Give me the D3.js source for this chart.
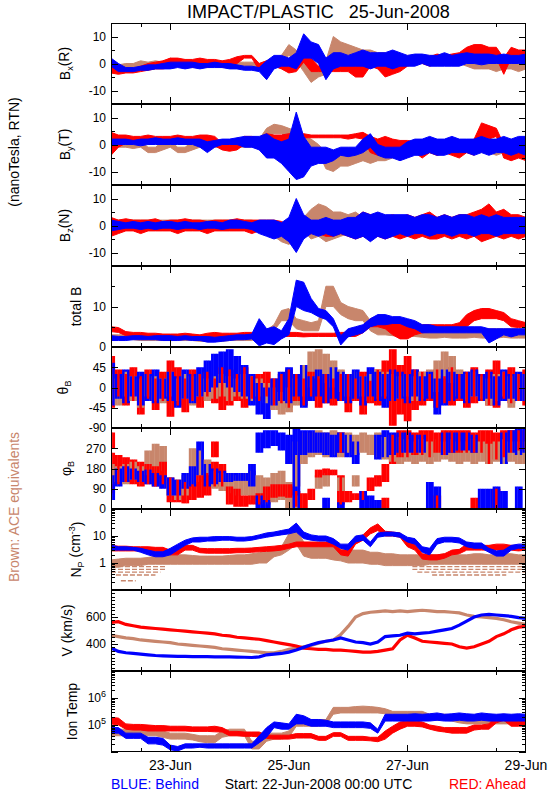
<!DOCTYPE html>
<html><head><meta charset="utf-8">
<script src="https://cdn.jsdelivr.net/npm/d3@7"></script>
<style>body{margin:0;background:#fff} text{font-family:"Liberation Sans",Arial,Helvetica,sans-serif}</style>
</head><body><svg id="c" width="550" height="800"></svg>
<script>
// ---- DATA: 3-hour samples from 22-Jun-2008 00:00 UTC (57 points), lo/hi envelopes ----
const startDate = "2008-06-22T00:00:00Z";
const stepHours = 3;
const dayTickLabels = ["23-Jun","25-Jun","27-Jun","29-Jun"];

const bxBlueLo = [-1,-3,-3,-3,-2.5,-2.5,-2,-2, -2,-1.5,-2,-1.5,-2,-1.5,-1.5,-1.5, -2,-2,-2.5,-2.5,-3,-6,-2,-1, -1,-2,2,2,0,-6,-2,-1, -1,-1,-1,-2,-1,-1,-2,-1, -1,-1,0,-1,-1,-1,-1,-1, 0,0,-0.5,0,0,0,0,0, 0];
const bxBlueHi = [2,0,-1.5,-1.5,-1,-0.5,-0.5,0, 0.5,0.5,0.5,0.5,0,0,0.5,0, 0,-0.5,-1,-1,-1.5,1,3,3, 2,4,11,8,7,2,4,4, 3,4,5,4,4,4,5,4, 3,3.5,3.5,3,3,4,3,3.5, 4,3.5,3.5,3.5,3,3.5,3,3, 3.5];
const bxRedLo = [-3.5,-4,-3.5,-3.5,-3,-2.5,-2,-2, -1.5,-1,-1,-1.5,-1,-1.5,-1,-1.5, -1.5,0,2,2,-2.5,-2,-1,-2, -3.5,-3,0.5,-3,-3,-3,-3,-3, -3,-5,-5,-1,-2,-5,-4,-3, -1,0,0,-1,0,0,0,0.5, 2,3,2,3,2,-4,2,2, 2];
const bxRedHi = [-1,-1.5,-2,-2,-1,0,0.5,1, 2,2,1.5,1.5,2,1.5,1.5,1, 1.5,2.5,3,3,0,1,1.5,0.5, -1,0.5,2,2,-1,1,0,-1, 0,0,1,2,1,-1,0,2, 2.5,3,3,2.5,3.5,3,3.5,4, 6,7,7,6,6,2,6,5, 5];
const bxBrownLo = [-2,-2,-2,-1.5,-1,-1,-1,-1, 0,-1,-1,-1,-1,-1,-1,-1, -1,-1,-1,-1,-2,-1,-1,0, 3,1,-3,-7,-5,-4,4,3, 2,2,1,1,0,0,0,0, 0,0,0,0,0,0,0,0, -1,-2,-2,-2,-3,-2,-2,-3, -2];
const bxBrownHi = [0,-0.5,0,0,1,0.5,1,0.5, 2,1,1.5,0.5,0.5,1,1,0.5, 0.5,0.5,0.5,0.5,0,1,2,3, 7,5,2,-2,-1,1,10,8, 7,6,5,5,4,4,3,3, 3,3,3,3,3,3.5,3,3, 2,1,1,1,0,1,0,0, 0];

const byRedLo = [-4,-1,0.5,0.5,0,0.5,0.5,0, 0.5,0.5,0,0.5,0.5,0,-0.5,-2, -2.5,-2,0,0,0,0.5,0.5,0, 0.5,0.5,2.5,2.5,2.5,2.5,2.5,2.5, 2,2.5,2,-3,-4,-3,-4,-3, -4,-3,-5,-3,-4,-3,-4,-5, -3,-4,3,2,3,-5,-6,-5, -6];
const byRedHi = [4.5,3.5,3.5,3,3,3.5,3,3, 3,3.5,3,3,3.5,3.5,3,0.5, 0,0.5,3,3,2.5,4,3.5,3.5, 4,4,4,3.5,3.5,3.5,3.5,3.5, 3.5,4,4.5,3,2,3,2,1.5, 1.5,1,0.5,1,0,1,0.5,0, 1,2,8,7,6,0,0,-1, -1];
const byBlueLo = [-0.5,0,0,0,-0.5,0,0,0, 0,0,0,0,-1,-3,-1,0, 0,0,-1,-1,-2,-5,-5,-7, -10,-13,-12,-8,-7,-7,-6,-4, -4.5,-4,-3,-1,-4,-5,-5,-6, -5,-4,-4,-3,-4,-4,-3,-3, -3,-4,-3,-4,-3,-3,-4,-3, -4];
const byBlueHi = [2,2,2,1.5,2,2,2.5,2, 2,2.5,2,2,2,1,1.5,2, 2,2.5,3,3,3,4,2,1, 2,12,3,-1,-1,-1,-2,-1, -1,-1,2,4,0,-1,-1,-1, 1,2,2,3,2,2,3,2, 2,2,3,2,2,3,2,3, 3];
const byBrownLo = [-1,-1,-1,-1.5,-1,-3,-3,-2, -1,-3,-3,-2,-1,-1,-1,-1, -1,-1,-1,-1,-1,3,4,4, 2,1,-2,-2,-3,-9,-10,-8, -8,-7,-6,-7,-6,-6,-5,-4, -4,-3,-3,-3,-4,-3,-3,-3, -3,-3,-3,-3,-4,-3,-3,-3, -3];
const byBrownHi = [2,2,2,1,1,-1,-1,1, 1,-1,-1,1,2,2,1.5,1.5, 1.5,1,1,1.5,2,6,7.5,7, 6,5,3,2,0,-3,-3,-2, -2,-2,-1,-2,-1,-1,-1,0, 0,1,1,1,0,1,1,1, 1,1,1,0,0,1,1,0, 0];

const bzRedLo = [-4,-3,-2,-2,-3,-2,-2,-2, -2,-3,-2,-2,-2,-3,-2,-2, -2,-2,-2,-3,-2,-2,-3,-3, -4,-5,-4,-3,-3,-4,-4,-3, -4,-5,-4,-5,-4,-5,-4,-5, -4,-5,-4,-5,-5,-4,-5,-4, -5,-4,-6,-5,-4,-5,-4,-5, -4];
const bzRedHi = [3,2,2.5,2,2,2,2.5,1.5, 2,2,2.5,2,2,1.5,2,2, 2,2.5,2,2,2,2,2,1.5, 0,0,1,1,1,0.5,1,1, 2,3,5,4,4,3,4,3, 4,3,4,5,3,4,3,4, 4,5,6,8,5,6,4,4, 3];
const bzBlueLo = [-2,-1.5,-1,-1,-1.5,-1,-1.5,-1, -1,-1.5,-1,-1,-1.5,-1,-1,-1.5, -1,-1,-1,-1.5,-3,-4,-5,-4, -6,-10,-5,-3,-4,-3,-4,-3, -4,-5,-4,-6,-4,-5,-4,-3, -4,-3,-3,-4,-3,-3,-4,-3, -3,-4,-3,-3,-4,-3,-3,-3, -3];
const bzBlueHi = [2,1.5,1,1.5,1,1.5,1,1.5, 1.5,1,1.5,1,1,1.5,1.5,1, 2,2,1.5,1,2,2,2,1, 3,10,4,2,2,3,2,2, 3,3,5,4,5,4,4,4, 4,3,4,4,3,4,3,4, 4,3,4,3,4,3,3,3, 3];
const bzBrownLo = [-1,-1,-1,-1,-1,-1,-1,-1, -1,-1,-1,-1,-1,-1,-1,-1, -1,-1,-1,-1,-2,-3,-4,-6, -7,-5,-2,-5,-4,-6,-5,-4, -3,-4,-3,-3,-3,-3,-3,-2, -2,-3,-2,-3,-3,-2,-3,-3, -3,-2,-3,-3,-2,-3,-3,-3, -3];
const bzBrownHi = [2,2,2,2,2,2,2,2, 2,2,2,2,2,2,2,2, 2,2,2,2,1,0,-1,-2, -1,0,3,6,8,7,5,5, 4,5,3,4,3,3,3,3, 3,2,3,2,3,3,2,3, 2,3,2,2,3,2,2,2, 2];

const btRedLo = [3.8,3.6,2.8,2.6,2.6,2.6,2.4,2.4, 2.4,2.4,2.2,2.2,2.2,2.4,2.4,2.4, 2.6,2.6,2.6,2.6,2.6,2.6,2.6,2.6, 2.6,2.6,2.5,2.6,2.6,2.6,2.6,2.6, 2.6,2.6,3.5,5,5,4.5,3,2, 2,3,3.5,3.8,4,4,4,4, 5,6.5,7,7,7,6.5,5,4.8, 5];
const btRedHi = [5,4.8,3.8,3.6,3.6,3.4,3.4,3.2, 3.2,3.2,3.4,3.2,3,3.4,3.6,3.4, 3.4,3.4,3.6,3.6,3.6,3.4,3.6,3.6, 3.6,3.6,3.4,3.4,3.4,3.4,3.4,3.6, 3.6,3.6,5,7,7.5,7,6.5,6, 6,6,5.5,5.5,5.5,5.5,5.5,6, 8,9,9.5,9.5,9,8.5,7,6.5, 6];
const btBlueLo = [1.6,1.6,1.6,1.8,1.8,1.8,1.8,1.6, 1.6,1.6,1.8,1.6,1.6,1.2,1.2,1.4, 1.6,1.8,1.8,2,0.3,1,0.6,2, 3,10,9,8.5,7.5,6.8,5,0.5, 2.5,3,3.5,5,5.5,5.5,5.8,5.8, 5,4.5,3.5,3.5,3.5,3.5,3.5,3.5, 3.5,3.5,3.5,1,2,3,2.5,3, 3];
const btBlueHi = [2.8,2.6,2.6,2.8,2.8,2.6,2.8,2.8, 2.8,2.6,2.8,2.6,2.6,2.6,2.4,2.6, 2.8,3,3,3.2,7,4.5,5,4, 7,16.5,16,12,9.5,9,7,2.8, 4.5,5,5.5,7,8,8,7.5,7.5, 7,6.5,5.5,5.5,5,5,5,5, 5,5,5,4.5,4.5,4.5,4.5,4.5, 4.5];
const btBrownLo = [2,2,2,1.8,1.6,1.6,1.6,1.6, 1.6,1.6,1.6,1.6,1.4,1.4,1.4,1.4, 1.6,1.6,1.6,1.6,2.4,2.8,4,6.5, 6.5,4.5,4,4,4,10,10,8, 7,6.5,6.5,4,3,3,2.8,2.6, 2.6,2.6,2.4,2.2,2.2,2.4,2.2,2.2, 2.2,2.4,2.2,2.2,2.2,2.4,2.2,2.2, 2.2];
const btBrownHi = [3,3,3,2.8,2.6,2.6,2.8,2.6, 2.8,2.6,2.6,2.6,2.6,2.6,2.6,2.6, 2.8,2.8,2.8,2.8,3.6,4.2,5.5,9, 9.5,7,6.5,6,6.5,15,15,11, 10,9.5,9,6.5,6,5.5,5,5, 4.5,4.5,4.5,4.5,5,5,5,4.5, 4.5,4.5,4.5,4.5,4.5,4.5,4.5,4.5, 4.5];

const thRedLo = [-45,-20,-40,-30,-60,-25,-50,-30, -65,-40,-55,-30,-45,-20,-35,-50, -40,-30,-45,-25,-30,-20,-40,-35, -45,-30,-40,-20,-45,-35,-40,-30, -55,-30,-60,-35,-40,-25,-85,-60, -75,-50,-40,-30,-45,-35,-40,-30, -45,-35,-30,-40,-45,-25,-35,-30, -40];
const thRedHi = [70,40,30,45,25,40,20,35, 60,45,20,40,30,35,20,45, 40,30,45,25,30,35,20,30, 40,30,20,35,25,30,20,30, 30,20,35,15,40,60,85,50, 70,40,35,30,40,25,45,30, 35,45,30,40,60,35,45,30, 40];
const thBlueLo = [-40,-25,-35,-20,-40,-30,-35,-25, -30,-45,-25,-35,-20,-10,0,10, 0,-10,-20,-40,-60,-70,-40,-30, -35,-20,-45,-30,-20,-35,-25,-30, -35,-25,-40,-20,-30,-45,-30,-25, -35,-20,-30,-25,-60,-40,-30,-25, -35,-20,-30,-25,-40,-30,-25,-30, -30];
const thBlueHi = [55,30,40,25,35,30,40,20, 35,25,40,30,45,60,75,80, 85,70,50,30,10,0,20,35, 45,30,50,25,40,30,45,35, 30,40,25,45,35,30,40,35, 30,40,25,35,20,40,35,30, 35,40,30,35,25,40,30,35, 30];
const thBrownLo = [-30,-40,-20,-30,-45,-20,-30,-35, -20,-30,-25,-40,-20,-30,-25,-20, -30,-20,-25,-30,-20,-35,-50,-60, -55,-40,-20,0,20,10,0,-10, -20,-30,-20,-30,-25,-20,-30,-25, -20,-30,-25,-20,-10,20,10,-20, -30,-20,-25,-40,-30,-20,-45,-30, -30];
const thBrownHi = [30,20,35,25,20,30,25,20, 35,20,30,25,30,20,25,30, 25,20,30,25,20,10,0,-10, 0,20,50,80,85,75,60,40, 30,35,25,30,40,35,30,25, 30,25,35,40,60,80,70,40, 30,35,25,20,30,35,25,30, 30];

// phi: main envelope plus a secondary envelope (null = none)
const phBlueLo = [40,100,120,130,120,110,100,90, 60,60,90,100,150,100,110,120, 120,125,125,100,250,270,280,260, 200,240,240,250,250,240,230,250, 230,200,0,0,220,230,240,250, 250,250,250,0,0,240,250,260, 260,250,0,0,0,200,250,240, 250];
const phBlueHi = [150,180,190,180,170,175,160,150, 140,130,160,190,300,200,180,170, 160,160,160,200,340,350,350,340, 330,360,350,350,340,340,330,340, 330,300,80,60,330,350,340,340, 340,330,330,120,100,340,340,340, 340,330,90,90,100,340,350,360, 360];
const phBlue2Lo = [null,null,null,null,null,null,null,null, null,null,null,null,null,null,null,null, null,null,null,null,0,0,null,null, null,0,null,null,null,0,null,0, null,null,null,null,0,null,null,null, null,null,null,null,null,null,null,null, null,null,null,null,null,0,null,0, null];
const phBlue2Hi = [null,null,null,null,null,null,null,null, null,null,null,null,null,null,null,null, null,null,null,null,60,40,null,null, null,240,null,null,null,50,null,30, null,null,null,null,40,null,null,null, null,null,null,null,null,null,null,null, null,null,null,null,null,80,null,100, null];
const phRedLo = [70,110,120,110,100,110,100,110, 30,30,25,40,50,60,100,100, 20,10,10,20,20,30,50,55, 50,10,0,40,140,150,150,20, 30,40,40,80,100,120,200,230, 230,240,240,230,250,240,250,250, 250,250,250,200,220,230,250,260, 260];
const phRedHi = [250,240,230,220,210,200,190,210, 140,130,120,110,150,160,210,200, 100,90,60,60,70,100,110,110, 110,80,70,90,175,180,175,150, 80,70,80,140,150,200,330,350, 350,340,350,350,340,350,350,350, 350,340,350,350,340,350,350,350, 350];
const phRed2Lo = [270,null,null,null,null,null,null,null, null,null,null,null,null,null,230,null, null,null,null,null,null,null,null,null, null,null,null,null,null,null,null,250, null,null,null,null,null,0,null,null, null,null,null,null,0,null,null,null, null,0,null,null,0,null,null,null, null];
const phRed2Hi = [340,null,null,null,null,null,null,null, null,null,null,null,null,null,300,null, null,null,null,null,null,null,null,null, null,null,null,null,null,null,null,340, null,null,null,null,null,50,null,null, null,null,null,null,60,null,null,null, null,50,null,null,90,null,null,null, null];
const phBrownLo = [110,120,110,130,120,150,160,170, 60,40,60,100,120,150,90,80, 70,60,60,40,30,20,30,40, 0,100,200,230,240,230,240,230, 250,240,250,240,230,220,210,200, 210,200,210,200,210,220,210,200, 210,200,210,200,210,200,210,200, 200];
const phBrownHi = [200,190,200,210,190,260,290,280, 140,130,150,270,260,220,170,160, 160,150,160,170,150,140,160,170, 120,300,340,340,350,340,350,340, 340,330,340,330,340,320,330,320, 310,300,310,300,310,300,310,300, 300,310,300,290,300,310,300,300, 300];
const phBrown2Lo = [null,null,null,null,null,null,null,null, null,null,null,null,null,null,null,null, null,null,null,null,null,null,null,null, null,0,null,null,90,100,null,80, null,100,null,null,null,null,null,null, null,null,null,null,null,null,null,null, null,null,null,null,null,null,null,null, null];
const phBrown2Hi = [null,null,null,null,null,null,null,null, null,null,null,null,null,null,null,null, null,null,null,null,null,null,null,null, null,60,null,null,150,160,null,140, null,150,null,null,null,null,null,null, null,null,null,null,null,null,null,null, null,null,null,null,null,null,null,null, null];

const npBlueLo = [3,3,3,3,2.5,2,1.7,1.7, 2,3,4.5,6,6,6.5,6.5,7, 7,6.5,6.5,7,8,9,10,11, 12,14,8,7,6.5,6.5,5,3.5, 3,6,7,4,9,10,10,9, 6,5,2.5,2,5,6,6,5.5, 4,3.5,3.5,2.5,1.8,1.8,3,3.5, 3.5];
const npBlueHi = [4.6,4,4,3.8,3.5,3,2.6,2.6, 3.5,5,7,8.5,9,9,9.5,9.5, 9.5,9,9,9.5,11,13,14,16, 18,30,14,11,10,10,8,5, 5,10,11,6,13,14,14,13, 9,8,4,3.5,8,9,9,8.5, 6,5.5,5.5,3.5,2.8,3,4.5,5, 5];
const npRedLo = [2.8,2.8,2.8,2.8,2.8,2.8,2.6,2.6, 2,2,3,3,2.4,2.3,2.3,2.3, 2.3,2.4,2.4,2.5,2.6,2.7,2.8,3, 3.5,4,4,4,4,4,4,2, 1.8,5,7,12,16,10,10,9, 4,3,1.4,1.3,1.3,1.5,2,2.2, 3,3,3,3,3,3,3,2.8, 3];
const npRedHi = [4.5,4.2,4.2,4,4,4,3.8,3.8, 3,3,4.5,4.5,3.5,3.4,3.4,3.4, 3.4,3.5,3.5,3.6,3.8,4,4.2,4.5, 5,6,6,6,6,6,6,3, 3,8,11,20,28,15,14,13, 7,5,2.2,2,2,2.2,3,3.2, 5,5,4.5,4.5,5,5,4.5,4.5, 4.5];
const npBrownLo = [0.7,0.7,0.8,0.8,0.8,0.9,0.9,0.9, 0.9,0.9,0.9,0.9,0.9,0.9,0.9,0.9, 0.9,0.9,0.9,0.9,1,1,1.7,2, 3,5,1.8,1.5,1.5,1.5,1.3,1.2, 1,1,1,0.9,0.9,0.8,0.8,0.8, 0.8,0.8,0.8,0.9,0.9,0.9,0.9,0.9, 0.9,0.9,0.9,0.9,0.9,0.9,0.9,0.9, 0.9];
const npBrownHi = [1.3,1.4,1.5,1.5,1.5,1.6,1.8,1.8, 2,2,2,1.9,1.8,1.8,1.8,1.8, 1.9,2,2,2.2,2.4,2.6,3.5,4, 12,20,6,4.5,4.5,4,4,3.5, 3,3,3,2.5,2.5,2.2,2.2,2, 2,2,2,2,2,2.2,2.2,2, 2,2.2,2.2,2,2,2.2,2.2,2, 2];
// ACE density quantisation floor: [start hour, end hour, value]
const npBrownFloor = [[0,22,0.73],[0,22,0.58],[0,20,0.46],[2,18,0.36],[4,10,0.22],[122,168,0.73],[122,168,0.58],[124,168,0.46],[130,160,0.36]];

const vRed = [560,565,545,535,525,520,515,510, 505,500,495,490,485,480,475,465, 460,450,445,440,435,425,415,405, 395,385,370,365,360,360,355,355, 350,345,340,340,345,355,365,430, 465,445,420,415,410,405,400,380, 370,380,400,420,455,475,505,525, 530];
const vBlue = [370,345,335,330,325,320,315,312, 310,308,308,307,306,306,305,305, 304,303,302,300,305,320,325,330, 340,355,375,395,410,420,430,445, 430,415,410,400,415,455,460,465, 480,475,480,485,495,505,515,540, 570,600,615,620,615,610,605,595, 590];
const vBrown = [465,455,445,440,430,425,420,415, 410,400,395,390,385,380,375,365, 360,355,350,345,340,335,335,345, 360,370,380,390,405,420,430,470, 530,600,625,635,640,645,640,645, 640,645,650,645,640,640,635,630, 615,605,600,595,590,580,565,555, 545];

const tRedLo = [1.1e5,1.0e5,7e4,6.5e4,6.5e4,6e4,6e4,6e4, 6e4,6e4,6e4,5.8e4,5.8e4,5.8e4,5.6e4,5.5e4, 4e4,4e4,3.8e4,3.8e4,3.6e4,3.2e4,3e4,3e4, 3e4,3.3e4,3.3e4,3.3e4,2.7e4,2.7e4,3.8e4,3.8e4, 2.7e4,2.7e4,2.7e4,2.6e4,2.4e4,3e4,5e4,7e4, 9e4,9e4,8.5e4,7e4,6e4,5.5e4,5e4,5e4, 5e4,6.5e4,7e4,7e4,1.2e5,1.5e5,9e4,9e4, 9e4];
const tRedHi = [1.9e5,1.8e5,1.1e5,1.05e5,1.05e5,1e5,9.5e4,9.5e4, 9e4,9e4,9e4,8.5e4,8.5e4,8.5e4,9e4,8e4, 5.8e4,5.8e4,5.5e4,5.5e4,5.5e4,4.2e4,4.2e4,4.2e4, 4.2e4,4.8e4,4.8e4,4.8e4,3.8e4,3.8e4,5.2e4,5.2e4, 3.8e4,3.8e4,3.8e4,3.5e4,3.5e4,6e4,9e4,1.3e5, 1.4e5,1.4e5,1.3e5,1e5,9e4,8e4,8e4,8e4, 8e4,1e5,1e5,1.1e5,2.3e5,2.5e5,1.7e5,1.6e5, 1.5e5];
const tBlueLo = [5e4,5e4,3.2e4,3.2e4,3.2e4,2e4,2e4,1.8e4, 1.2e4,1.1e4,1.4e4,1.4e4,1.5e4,1.4e4,1.4e4,1.4e4, 1.4e4,1.4e4,1.4e4,1.4e4,2.2e4,3.5e4,8e4,7e4, 7e4,1.1e5,1.1e5,9e4,9e4,9e4,8e4,8e4, 8e4,8e4,8e4,7.5e4,5e4,1.4e5,1.4e5,1.4e5, 1.4e5,1.4e5,1.4e5,1.4e5,1.5e5,1.4e5,1.4e5,1.5e5, 1.4e5,1.4e5,1.5e5,1.4e5,1.4e5,1.4e5,1.4e5,1.4e5, 1.4e5];
const tBlueHi = [8e4,8e4,5e4,5e4,5e4,3.5e4,3.5e4,3.2e4, 1.8e4,1.6e4,2e4,2e4,2e4,2e4,2e4,2e4, 2e4,2e4,2e4,2e4,4e4,8e4,1.3e5,1.2e5, 1.1e5,2.5e5,2.2e5,1.6e5,1.6e5,1.5e5,1.3e5,1.3e5, 1.3e5,1.3e5,1.3e5,1.2e5,7e4,2.5e5,2.5e5,2.5e5, 2.5e5,2.6e5,2.5e5,2.6e5,2.8e5,2.5e5,2.6e5,2.8e5, 2.6e5,2.5e5,2.8e5,2.6e5,2.5e5,2.6e5,2.5e5,2.6e5, 2.5e5];
const tBrownLo = [4e4,4e4,4e4,4e4,4e4,4e4,4e4,3.5e4, 3e4,3e4,3e4,2.8e4,2.4e4,2.2e4,2.2e4,3.5e4, 4e4,4e4,4e4,1.3e4,1.3e4,2.5e4,3e4,3e4, 3.5e4,9e4,9e4,9e4,9e4,1e5,2.5e5,2.8e5, 2.8e5,2.8e5,2.8e5,2.8e5,2.8e5,2.6e5,2e5,2e5, 2e5,2e5,2e5,1.5e5,1.5e5,1.5e5,1.4e5,1.2e5, 1.1e5,1.1e5,1.1e5,1.1e5,1.1e5,1.1e5,1.1e5,1.1e5, 1.1e5];
const tBrownHi = [7e4,7e4,7e4,7e4,7e4,7e4,7e4,6e4, 5e4,5e4,5e4,4.5e4,4e4,4e4,4e4,6e4, 7e4,7e4,7e4,2.5e4,2.5e4,5e4,5e4,5e4, 6e4,1.6e5,1.6e5,1.6e5,1.6e5,1.6e5,4.5e5,4.5e5, 4.5e5,4.8e5,5e5,4.8e5,4.5e5,4e5,3.2e5,3.2e5, 3.2e5,3.2e5,3.2e5,2.5e5,2.5e5,2.5e5,2.4e5,2.2e5, 2.2e5,2.2e5,2.2e5,2.2e5,2.2e5,2.2e5,2.2e5,2.2e5, 2.2e5];

// ---- LAYOUT / STYLE ----
const C = {blue:"#0000ff", red:"#ff0000", brown:"#c8866c"};
const L = 111, R = 526, TOP = 23, PH = 81;
const svg = d3.select("#c");
const t0 = new Date(startDate);
const tAt = i => new Date(t0.getTime() + i*stepHours*3600e3);
const x = d3.scaleUtc().domain([t0, new Date(t0.getTime()+7*86400e3)]).range([L, R]);
const stepPx = x(tAt(1)) - x(tAt(0));

function decadeMinor(a,b){const o=[];for(let e=a;e<b;e++)for(let m=2;m<=9;m++)o.push(m*Math.pow(10,e));return o;}

const panels = [
 {lab:"bx", type:"lin", dom:[-15,15], major:[-10,0,10], minor:[-5,5], labels:[[-10,"-10"],[0,"0"],[10,"10"]], mode:"area",
  s:[[bxBrownLo,bxBrownHi,"brown"],[bxRedLo,bxRedHi,"red"],[bxBlueLo,bxBlueHi,"blue"]], lx:70},
 {lab:"by", type:"lin", dom:[-15,15], major:[-10,0,10], minor:[-5,5], labels:[[-10,"-10"],[0,"0"],[10,"10"]], mode:"area",
  s:[[byBrownLo,byBrownHi,"brown"],[byRedLo,byRedHi,"red"],[byBlueLo,byBlueHi,"blue"]], lx:70},
 {lab:"bz", type:"lin", dom:[-15,15], major:[-10,0,10], minor:[-5,5], labels:[[-10,"-10"],[0,"0"],[10,"10"]], mode:"area",
  s:[[bzBrownLo,bzBrownHi,"brown"],[bzRedLo,bzRedHi,"red"],[bzBlueLo,bzBlueHi,"blue"]], lx:70},
 {lab:"bt", type:"lin", dom:[0,20], major:[0,10], minor:[5,15], labels:[[0,"0"],[10,"10"]], mode:"area",
  s:[[btBrownLo,btBrownHi,"brown"],[btRedLo,btRedHi,"red"],[btBlueLo,btBlueHi,"blue"]], lx:81},
 {lab:"th", type:"lin", dom:[-90,90], major:[-90,-45,0,45,90], minor:[], labels:[[-90,"-90"],[-45,"-45"],[0,"0"],[45,"45"]], mode:"bars",
  s:[[thBrownLo,thBrownHi,"brown"],[thRedLo,thRedHi,"red"],[thBlueLo,thBlueHi,"blue"]], lx:68},
 {lab:"ph", type:"lin", dom:[0,360], major:[0,90,180,270,360], minor:[], labels:[[0,"0"],[90,"90"],[180,"180"],[270,"270"]], mode:"bars",
  s:[[phBrownLo,phBrownHi,"brown"],[phRedLo,phRedHi,"red"],[phBlueLo,phBlueHi,"blue"],
     [phBrown2Lo,phBrown2Hi,"brown"],[phRed2Lo,phRed2Hi,"red"],[phBlue2Lo,phBlue2Hi,"blue"]], lx:71},
 {lab:"np", type:"log", dom:[0.1,100], major:[0.1,1,10,100], minor:decadeMinor(-1,2), labels:[[1,"1"],[10,"10"]], mode:"area",
  s:[[npBrownLo,npBrownHi,"brown"],[npRedLo,npRedHi,"red"],[npBlueLo,npBlueHi,"blue"]], lx:81},
 {lab:"v", type:"lin", dom:[200,800], major:[200,400,600,800], minor:d3.range(225,800,25).filter(v=>v%200), labels:[[400,"400"],[600,"600"]], mode:"line",
  s:[[vBrown,null,"brown"],[vRed,null,"red"],[vBlue,null,"blue"]], lx:72},
 {lab:"t", type:"log", dom:[1e4,1e7], major:[1e4,1e5,1e6,1e7], minor:decadeMinor(4,7), labels:[[1e5,"5"],[1e6,"6"]], mode:"area",
  s:[[tBrownLo,tBrownHi,"brown"],[tRedLo,tRedHi,"red"],[tBlueLo,tBlueHi,"blue"]], lx:77}
];

// which colour ends up on top in each of the three sub-columns of a time step
const topOrder = ["blue","red","blue"];

const defs = svg.append("defs");
panels.forEach((p, k) => {
  const top = TOP + k*PH, bot = top + PH;
  const y = (p.type === "log" ? d3.scaleLog() : d3.scaleLinear()).domain(p.dom).range([bot, top]);
  defs.append("clipPath").attr("id","cp"+k).append("rect").attr("x",L).attr("y",top).attr("width",R-L).attr("height",PH);
  const g = svg.append("g").attr("clip-path","url(#cp"+k+")");
  const idx = d3.range(p.s[0][0].length);
  if (p.lab === "np") {
    npBrownFloor.forEach(([h0,h1,v]) => {
      g.append("line")
        .attr("x1", x(new Date(t0.getTime()+h0*3600e3))).attr("x2", x(new Date(t0.getTime()+h1*3600e3)))
        .attr("y1", y(v)).attr("y2", y(v)).attr("stroke", C.brown).attr("stroke-width",1.3).attr("stroke-dasharray","5,2");
    });
  }
  if (p.mode === "bars") {
    const w = stepPx/3;
    idx.forEach(i => {
      const segs = p.s.filter(([lo,hi]) => lo[i] != null && hi[i] != null)
        .map(([lo,hi,col]) => ({lo:lo[i], hi:hi[i], col}));
      topOrder.forEach((tc, c) => {
        const ord = segs.slice().sort((a,b) => {
          const ta = a.col === tc ? 1 : 0, tb = b.col === tc ? 1 : 0;
          if (ta !== tb) return ta - tb;
          return (b.hi-b.lo) - (a.hi-a.lo);
        });
        ord.forEach(sg => {
          g.append("rect").attr("x", x(tAt(i)) - stepPx/2 + c*w).attr("width", w + 0.35)
            .attr("y", y(sg.hi)).attr("height", Math.max(1, y(sg.lo) - y(sg.hi))).attr("fill", C[sg.col]);
        });
      });
    });
  } else {
    p.s.forEach(([lo, hi, col]) => {
      if (p.mode === "area") {
        g.append("path").attr("fill", C[col]).attr("stroke", C[col]).attr("stroke-width",1)
          .attr("d", d3.area().x(i => x(tAt(i))).y0(i => y(lo[i])).y1(i => y(hi[i]))(idx));
      } else {
        g.append("path").attr("fill","none").attr("stroke", C[col]).attr("stroke-width",3.2)
          .attr("d", d3.line().x(i => x(tAt(i))).y(i => y(lo[i]))(idx));
      }
    });
  }
  svg.append("rect").attr("x",L+0.5).attr("y",top+0.5).attr("width",R-L-1).attr("height",PH-1)
     .attr("fill","none").attr("stroke","#000").attr("stroke-width",1);
  const tk = svg.append("g").attr("stroke","#000").attr("stroke-width",1);
  const yt = (v, len) => {
    const yy = Math.round(y(v)) + 0.5;
    tk.append("line").attr("x1",L).attr("x2",L+len).attr("y1",yy).attr("y2",yy);
    tk.append("line").attr("x1",R).attr("x2",R-len).attr("y1",yy).attr("y2",yy);
  };
  p.major.forEach(v => yt(v, 7));
  p.minor.forEach(v => yt(v, 4));
  const xt = (d, len) => {
    const xx = Math.round(x(d)) + 0.5;
    tk.append("line").attr("x1",xx).attr("x2",xx).attr("y1",top).attr("y2",top+len);
    tk.append("line").attr("x1",xx).attr("x2",xx).attr("y1",bot).attr("y2",bot-len);
  };
  [1,3,5].forEach(dd => xt(new Date(t0.getTime()+dd*86400e3), 7));
  [0.5,6.5].forEach(dd => xt(new Date(t0.getTime()+dd*86400e3), 4));
  p.labels.forEach(([v, s]) => {
    const tx = svg.append("text").attr("x",106).attr("y",y(v)).attr("dy","0.36em")
      .attr("text-anchor","end").attr("font-size",12);
    if (p.lab === "t") { tx.text("10"); tx.append("tspan").attr("dy","-0.55em").attr("font-size",9).text(s); }
    else tx.text(s);
  });
  const cy = top + PH/2;
  const yl = svg.append("text").attr("transform",`translate(${p.lx},${cy}) rotate(-90)`)
     .attr("text-anchor","middle").attr("font-size",14);
  const sub = (t) => yl.append("tspan").attr("dy","0.3em").attr("font-size",9).text(t);
  const up = () => yl.append("tspan").attr("dy","-0.3em");
  if (p.lab === "bx" || p.lab === "by" || p.lab === "bz") {
    yl.append("tspan").text("B"); sub(p.lab[1]); up().text(p.lab==="bx"?"(R)":p.lab==="by"?"(T)":"(N)");
  } else if (p.lab === "bt") yl.text("total B");
  else if (p.lab === "th") { yl.append("tspan").text("θ"); sub("B"); }
  else if (p.lab === "ph") { yl.append("tspan").text("φ"); sub("B"); }
  else if (p.lab === "np") {
    yl.append("tspan").text("N"); sub("P"); up().text(" (cm");
    yl.append("tspan").attr("dy","-0.45em").attr("font-size",9).text("-3");
    yl.append("tspan").attr("dy","0.45em").text(")");
  } else if (p.lab === "v") yl.text("V (km/s)");
  else yl.text("Ion Temp");
});

svg.append("text").attr("x",(L+R)/2).attr("y",18).attr("text-anchor","middle").attr("font-size",18)
   .attr("xml:space","preserve").text("IMPACT/PLASTIC   25-Jun-2008");
svg.append("text").attr("transform",`translate(19,152) rotate(-90)`).attr("text-anchor","middle")
   .attr("font-size",14).text("(nanoTesla, RTN)");
svg.append("text").attr("transform",`translate(19,507) rotate(-90)`).attr("text-anchor","middle")
   .attr("font-size",14).attr("fill",C.brown).text("Brown: ACE equivalents");
const BOT = TOP + 9*PH;
dayTickLabels.forEach((s, k) => {
  svg.append("text").attr("x", x(new Date(t0.getTime()+(1+2*k)*86400e3))).attr("y", BOT+18)
     .attr("text-anchor","middle").attr("font-size",14).text(s);
});
svg.append("text").attr("x",L).attr("y",BOT+37).attr("font-size",14).attr("fill",C.blue).text("BLUE: Behind");
svg.append("text").attr("x",(L+R)/2).attr("y",BOT+37).attr("text-anchor","middle").attr("font-size",14).text("Start: 22-Jun-2008 00:00 UTC");
svg.append("text").attr("x",R).attr("y",BOT+37).attr("text-anchor","end").attr("font-size",14).attr("fill",C.red).text("RED: Ahead");
</script></body></html>
